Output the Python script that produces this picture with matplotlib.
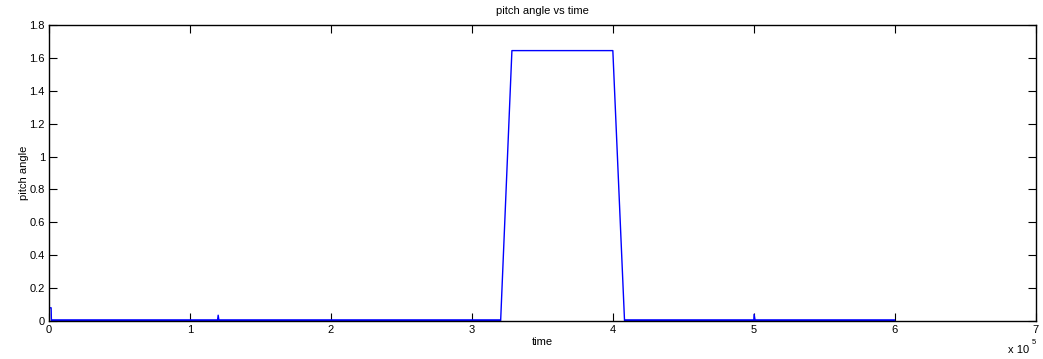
import numpy as np
import matplotlib
matplotlib.use("Agg")
import matplotlib.pyplot as plt

# pitch angle trace (time in samples, angle in rad)
time = np.array([0, 1500, 1700, 3200, 119500, 120000, 120600, 320400,
                 328400, 400000, 408300, 500000, 500200, 501000, 600000])
pitch = np.array([0.08, 0.08, 0.0, 0.0, 0.0, 0.035, 0.0, 0.0,
                  1.645, 1.645, 0.0, 0.0, 0.04, 0.0, 0.0])

x_ticks = [0, 1, 2, 3, 4, 5, 6, 7]
y_ticks = [0, 0.2, 0.4, 0.6, 0.8, 1.0, 1.2, 1.4, 1.6, 1.8]
x_scale = 1e5

plt.rcParams["font.family"] = ["Liberation Sans", "DejaVu Sans"]

fig = plt.figure(figsize=(10.43, 3.59), dpi=100)
ax = fig.add_axes([0.047, 0.106, 0.946, 0.824])

# thin trace everywhere, heavier where the signal rests at zero
ax.plot(time, pitch, color="#0000ff", lw=1.0)
settled = np.where(pitch < 0.01, pitch, np.nan)
ax.plot(time, settled, color="#0000ff", lw=2.6, solid_capstyle="butt")

ax.set_xlim(0, 7 * x_scale)
ax.set_ylim(0, 1.8)
ax.set_xticks([v * x_scale for v in x_ticks])
ax.set_xticklabels([str(v) for v in x_ticks])
ax.set_yticks(y_ticks)
ax.set_yticklabels([f"{v:g}" for v in y_ticks])

ax.tick_params(direction="in", length=6, width=0.8, top=True, right=True,
               labelsize=8, pad=3, color="black")
for spine in ax.spines.values():
    spine.set_linewidth(1.0)
    spine.set_color("black")

ax.set_title("pitch angle vs time", fontsize=8, pad=8)
ax.set_xlabel("time", fontsize=8, labelpad=1)
ax.set_ylabel("pitch angle", fontsize=8, labelpad=0)

# exponent label under the right end of the x axis
fig.text(0.987, 0.012, "x 10", fontsize=8, ha="right", va="bottom")
fig.text(0.989, 0.036, "5", fontsize=5.5, ha="left", va="bottom")

fig.savefig("out.png", dpi=100, facecolor="white")
